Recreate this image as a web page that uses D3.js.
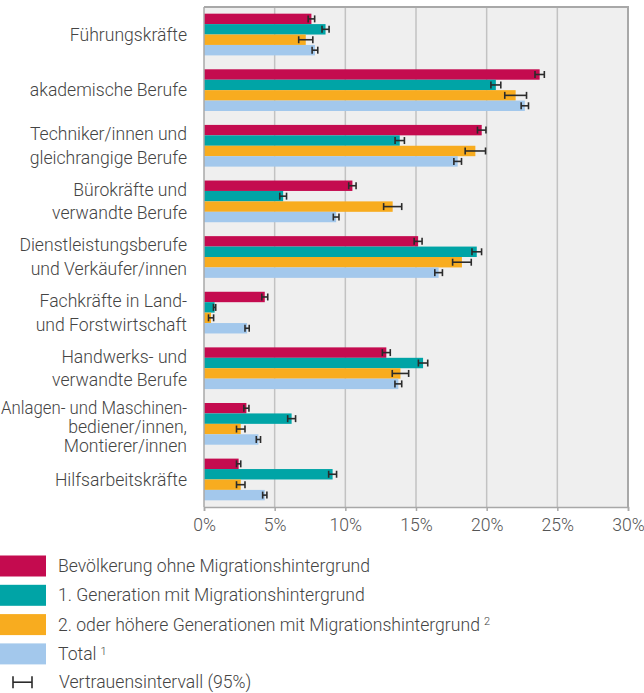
<!DOCTYPE html>
<html>
<head>
<meta charset="utf-8">
<script src="https://cdn.jsdelivr.net/npm/d3@7"></script>
<style>
  body { margin: 0; background: #fff; }
  text { font-family: Roboto, "Noto Sans", sans-serif; font-weight: 300; }
</style>
</head>
<body>
<div id="chart"></div>
<script>
const categories = [
  ["Führungskräfte"],
  ["akademische Berufe"],
  ["Techniker/innen und", "gleichrangige Berufe"],
  ["Bürokräfte und", "verwandte Berufe"],
  ["Dienstleistungsberufe", "und Verkäufer/innen"],
  ["Fachkräfte in Land-", "und Forstwirtschaft"],
  ["Handwerks- und", "verwandte Berufe"],
  ["Anlagen- und Maschinen-", "bediener/innen,", "Montierer/innen"],
  ["Hilfsarbeitskräfte"]
];

const seriesNames = [
  "Bevölkerung ohne Migrationshintergrund",
  "1. Generation mit Migrationshintergrund",
  "2. oder höhere Generationen mit Migrationshintergrund",
  "Total"
];
const seriesSup = ["", "", "2", "1"];

const ohneMig = [7.6, 23.75, 19.65, 10.5, 15.15, 4.3, 12.9, 3.0, 2.45];
const gen1 = [8.6, 20.65, 13.85, 5.6, 19.3, 0.75, 15.5, 6.2, 9.1];
const gen2 = [7.2, 22.05, 19.2, 13.35, 18.25, 0.5, 13.9, 2.6, 2.6];
const total = [7.85, 22.7, 17.95, 9.35, 16.6, 3.05, 13.75, 3.85, 4.3];

const ciOhneMig = [0.23, 0.33, 0.3, 0.26, 0.28, 0.21, 0.28, 0.18, 0.15];
const ciGen1 = [0.25, 0.35, 0.33, 0.24, 0.34, 0.08, 0.33, 0.28, 0.28];
const ciGen2 = [0.5, 0.77, 0.72, 0.64, 0.66, 0.18, 0.58, 0.3, 0.3];
const ciTotal = [0.2, 0.26, 0.27, 0.2, 0.27, 0.15, 0.24, 0.15, 0.15];

const xTicks = [0, 5, 10, 15, 20, 25, 30];

const values = [ohneMig, gen1, gen2, total];
const cis = [ciOhneMig, ciGen1, ciGen2, ciTotal];
const colors = ["#c40b4f", "#00a4a6", "#f8ac1f", "#a3c8ec"];

const width = 644, height = 693;
const plot = { left: 204, right: 628, top: 7, bottom: 507 };
const fontSize = "17.6px";
const labelRight = 187;

const svg = d3.select("#chart").append("svg")
  .attr("width", width)
  .attr("height", height);

const x = d3.scaleLinear().domain([0, 30]).range([plot.left, plot.right]);

const y = d3.scaleBand()
  .domain(d3.range(categories.length))
  .range([plot.top, plot.bottom])
  .paddingInner(0.25)
  .paddingOuter(0.12);

const ySub = d3.scaleBand()
  .domain(d3.range(seriesNames.length))
  .range([0, y.bandwidth()]);

// plot background
svg.append("rect")
  .attr("x", plot.left).attr("y", plot.top)
  .attr("width", plot.right - plot.left)
  .attr("height", plot.bottom - plot.top)
  .attr("fill", "#efefef");

// gridlines
svg.append("g")
  .selectAll("line")
  .data(xTicks.slice(1, -1))
  .join("line")
  .attr("x1", d => x(d)).attr("x2", d => x(d))
  .attr("y1", plot.top).attr("y2", plot.bottom)
  .attr("stroke", "#c2c2c2")
  .attr("stroke-width", 1.5);

// frame top / right
svg.append("path")
  .attr("d", `M${plot.left},${plot.top}H${plot.right}V${plot.bottom}`)
  .attr("fill", "none")
  .attr("stroke", "#a8a8a8")
  .attr("stroke-width", 2);

// bars
const groups = svg.append("g")
  .selectAll("g")
  .data(categories)
  .join("g")
  .attr("transform", (d, i) => `translate(0,${y(i)})`);

groups.each(function (c, ci) {
  const g = d3.select(this);
  values.forEach((vals, s) => {
    const v = vals[ci];
    const e = cis[s][ci];
    const by = ySub(s);
    const bh = ySub.bandwidth();
    g.append("rect")
      .attr("x", x(0))
      .attr("y", by)
      .attr("width", x(v) - x(0))
      .attr("height", bh)
      .attr("fill", colors[s]);

    const cy = by + bh / 2;
    const eb = g.append("g")
      .attr("stroke", "#2b2b2b")
      .attr("stroke-width", 1.6);
    eb.append("line")
      .attr("x1", x(v - e)).attr("x2", x(v + e))
      .attr("y1", cy).attr("y2", cy);
    eb.append("line")
      .attr("x1", x(v - e)).attr("x2", x(v - e))
      .attr("y1", cy - 3.5).attr("y2", cy + 3.5);
    eb.append("line")
      .attr("x1", x(v + e)).attr("x2", x(v + e))
      .attr("y1", cy - 3.5).attr("y2", cy + 3.5);
  });
});

// left axis line
svg.append("line")
  .attr("x1", plot.left).attr("x2", plot.left)
  .attr("y1", plot.top).attr("y2", plot.bottom)
  .attr("stroke", "#a8a8a8")
  .attr("stroke-width", 1.5);

// x axis
const xAxis = svg.append("g")
  .attr("transform", `translate(0,${plot.bottom})`)
  .call(d3.axisBottom(x).tickValues(xTicks).tickFormat(d => d + "%").tickSize(4).tickPadding(8));
xAxis.select(".domain").attr("stroke", "#a8a8a8").attr("stroke-width", 1.5);
xAxis.selectAll(".tick line").attr("stroke", "#a8a8a8").attr("stroke-width", 1.5);
xAxis.selectAll(".tick text")
  .attr("fill", "#555")
  .style("font-size", fontSize)
  .style("font-family", "Roboto, sans-serif")
  .style("font-weight", 300);

// category labels
const labels = svg.append("g")
  .selectAll("text")
  .data(categories)
  .join("text")
  .attr("text-anchor", "end")
  .attr("fill", "#444")
  .style("font-size", fontSize)
  .attr("transform", (d, i) => `translate(${labelRight},${y(i) + y.bandwidth() / 2})`);

labels.each(function (lines) {
  const lh = lines.length > 2 ? 19.3 : 23.5;
  const shift = lines.length > 2 ? 3 : 0;
  const t = d3.select(this);
  lines.forEach((l, k) => {
    const ts = t.append("tspan")
      .attr("x", 0)
      .attr("y", (k - (lines.length - 1) / 2) * lh + shift)
      .attr("dy", "0.35em")
      .text(l);
    // squeeze a line that would run off the left edge
    const w = ts.node().getComputedTextLength();
    if (w > labelRight - 1) {
      ts.attr("textLength", labelRight - 1).attr("lengthAdjust", "spacingAndGlyphs");
    }
  });
});

// legend
const legend = svg.append("g").attr("transform", "translate(0,566)");
seriesNames.forEach((name, i) => {
  const row = legend.append("g").attr("transform", `translate(0,${i * 29.3})`);
  row.append("rect")
    .attr("x", 0).attr("y", -10.5)
    .attr("width", 46).attr("height", 21)
    .attr("fill", colors[i]);
  const t = row.append("text")
    .attr("x", 58).attr("y", 0).attr("dy", "0.35em")
    .attr("fill", "#444")
    .style("font-size", fontSize)
    .text(name);
  if (seriesSup[i]) {
    t.append("tspan")
      .attr("dx", 4).attr("dy", "-0.5em")
      .style("font-size", "11px")
      .text(seriesSup[i]);
  }
});
const ciRow = legend.append("g").attr("transform", `translate(0,${4 * 29.3 - 1})`)
  .attr("stroke", "#2b2b2b").attr("stroke-width", 1.6);
ciRow.append("line").attr("x1", 13).attr("x2", 32).attr("y1", 0).attr("y2", 0);
ciRow.append("line").attr("x1", 13).attr("x2", 13).attr("y1", -6).attr("y2", 6);
ciRow.append("line").attr("x1", 32).attr("x2", 32).attr("y1", -6).attr("y2", 6);
legend.append("text")
  .attr("x", 59).attr("y", 4 * 29.3 - 1).attr("dy", "0.35em")
  .attr("fill", "#444")
  .style("font-size", fontSize)
  .text("Vertrauensintervall (95%)");
</script>
</body>
</html>
